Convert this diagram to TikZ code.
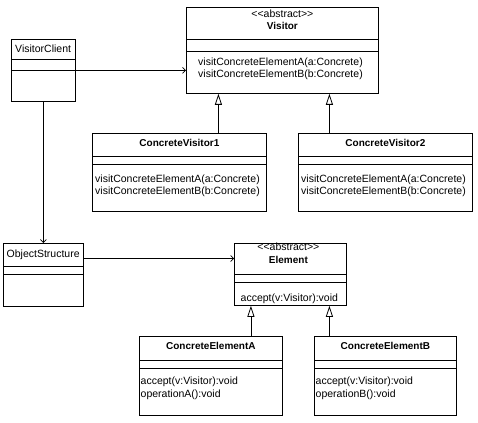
\documentclass[tikz,border=0pt]{standalone}
\usepackage{fontspec}
\setmainfont{Liberation Sans}
\usetikzlibrary{arrows.meta,positioning}

\tikzset{
    classbox/.style={draw, rectangle, anchor=north west, inner sep=0pt, line width=0.8pt},
    txt/.style={inner sep=0pt, text height=7.6pt, text depth=2.2pt,
        font=\fontsize{10.5}{12}\selectfont},
    cname/.style={txt, font=\fontsize{10}{12}\selectfont\bfseries},
    assoc/.style={-{Straight Barb[length=3pt,width=6pt]}, line width=0.7pt},
    inherit/.style={-{Triangle[open,length=11pt,width=7pt]}, line width=0.8pt},
}

\begin{document}
\begin{tikzpicture}[x=1pt, y=-1pt]
    \useasboundingbox (0,0) rectangle (478,422);

    % class boxes
    \node[classbox, minimum width=64pt,  minimum height=62pt] (client)  at (11,39)   {};
    \node[classbox, minimum width=192pt, minimum height=86pt] (visitor) at (186,7)   {};
    \node[classbox, minimum width=174pt, minimum height=78pt] (cv1)     at (92,133)  {};
    \node[classbox, minimum width=174pt, minimum height=78pt] (cv2)     at (298,133) {};
    \node[classbox, minimum width=80pt,  minimum height=63pt] (objs)    at (3,243)   {};
    \node[classbox, minimum width=112pt, minimum height=62pt] (element) at (234,243) {};
    \node[classbox, minimum width=143pt, minimum height=79pt] (cea)     at (139,336) {};
    \node[classbox, minimum width=142pt, minimum height=79pt] (ceb)     at (314,336) {};

    % compartment lines
    \foreach \n/\a/\b in {client/20/31, visitor/32/44, cv1/23/31, cv2/23/31,
                          objs/23/31, element/31/39, cea/24/32, ceb/24/32} {
        \draw[line width=0.8pt] ([yshift=-\a pt]\n.north west) -- ([yshift=-\a pt]\n.north east);
        \draw[line width=0.8pt] ([yshift=-\b pt]\n.north west) -- ([yshift=-\b pt]\n.north east);
    }

    % names
    \node[txt, anchor=west] (clientname) at ([xshift=4pt, yshift=-11pt]client.north west) {VisitorClient};
    \node[txt] (visitorst) at ([yshift=-8pt]visitor.north) {<{}<abstract>{}>};
    \node[cname] (visitorname) at ([yshift=-20pt]visitor.north) {Visitor};
    \node[cname] (cv1name) at ([yshift=-11pt]cv1.north) {ConcreteVisitor1};
    \node[cname] (cv2name) at ([yshift=-11pt]cv2.north) {ConcreteVisitor2};
    \node[txt, anchor=west] (objsname) at ([xshift=3.5pt, yshift=-12pt]objs.north west) {ObjectStructure};
    \node[txt] (elementst) at ([xshift=-2pt, yshift=-5pt]element.north) {<{}<abstract>{}>};
    \node[cname] (elementname) at ([xshift=-2pt, yshift=-18pt]element.north) {Element};
    \node[cname] (ceaname) at ([yshift=-11pt]cea.north) {ConcreteElementA};
    \node[cname] (cebname) at ([yshift=-11pt]ceb.north) {ConcreteElementB};

    % operations
    \foreach \n/\dx/\dy in {visitor/12/56, cv1/3/47, cv2/3/47} {
        \node[txt, anchor=west] (\n opa) at ([xshift=\dx pt, yshift=-\dy pt]\n.north west)
            {visitConcreteElementA(a:Concrete)};
        \node[txt, anchor=west] (\n opb) at ([xshift=\dx pt, yshift=-\dy pt-12pt]\n.north west)
            {visitConcreteElementB(b:Concrete)};
    }
    \node[txt, anchor=west] (elementop) at ([xshift=6.5pt, yshift=-56pt]element.north west) {accept(v:Visitor):void};
    \node[txt, anchor=west] (ceaopa) at ([xshift=1.5pt, yshift=-46pt]cea.north west) {accept(v:Visitor):void};
    \node[txt, anchor=west] (ceaopb) at ([xshift=1.5pt, yshift=-59pt]cea.north west) {operationA():void};
    \node[txt, anchor=west] (cebopa) at ([xshift=1.5pt, yshift=-46pt]ceb.north west) {accept(v:Visitor):void};
    \node[txt, anchor=west] (cebopb) at ([xshift=1.5pt, yshift=-59pt]ceb.north west) {operationB():void};

    % associations
    \draw[assoc] (client.east) -- (client.east -| visitor.west);
    \draw[assoc] (client.south) -- (client.south |- objs.north);
    \draw[assoc] ([yshift=-15.5pt]objs.north east) coordinate (os) -- (os -| element.west);

    % generalizations
    \draw[inherit] ([xshift=39pt]cv1.north) -- ([xshift=39pt]cv1.north |- visitor.south);
    \draw[inherit] ([xshift=-56pt]cv2.north) -- ([xshift=-56pt]cv2.north |- visitor.south);
    \draw[inherit] ([xshift=40pt]cea.north) -- ([xshift=40pt]cea.north |- element.south);
    \draw[inherit] ([xshift=-56pt]ceb.north) -- ([xshift=-56pt]ceb.north |- element.south);
\end{tikzpicture}
\end{document}
